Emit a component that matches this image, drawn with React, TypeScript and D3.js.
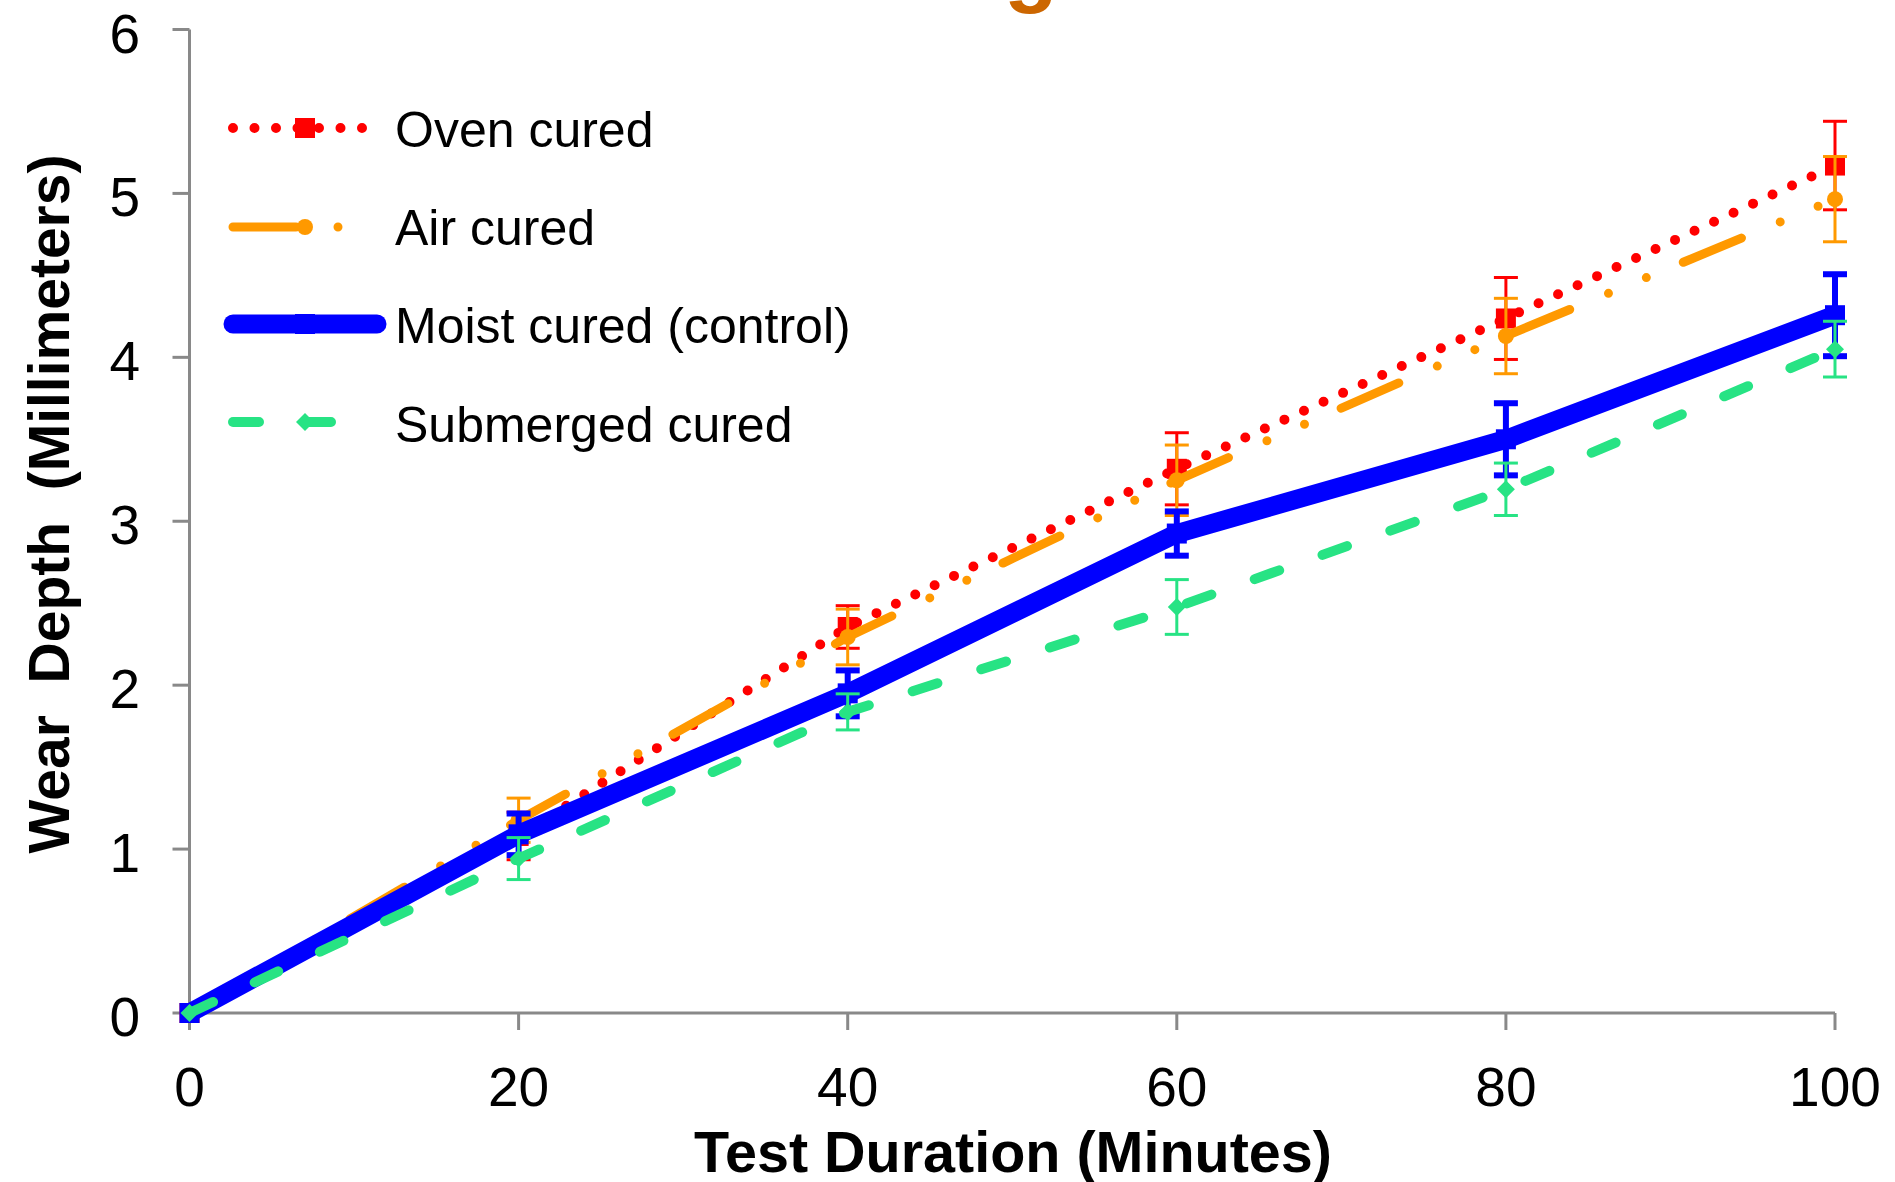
import React from "react";
import * as d3 from "d3";

// Test duration in minutes
const minutes = [0, 20, 40, 60, 80, 100];

// Mean wear depth (mm) and error half-widths per curing method
const ovenCured = [0, 1.08, 2.355, 3.32, 4.237, 5.17];
const ovenErr = [0, 0.145, 0.13, 0.22, 0.25, 0.27];

const airCured = [0, 1.176, 2.294, 3.25, 4.13, 4.965];
const airErr = [0, 0.135, 0.17, 0.215, 0.23, 0.26];

const moistCured = [0, 1.09, 1.95, 2.925, 3.5, 4.257];
const moistErr = [0, 0.127, 0.14, 0.135, 0.22, 0.25];

const submergedCured = [0, 0.942, 1.837, 2.477, 3.195, 4.05];
const submergedErr = [0, 0.128, 0.11, 0.167, 0.16, 0.17];

const xTicks = [0, 20, 40, 60, 80, 100];
const yTicks = [0, 1, 2, 3, 4, 5, 6];

const seriesNames = ["Oven cured", "Air cured", "Moist cured (control)", "Submerged cured"];

const W = 1895;
const H = 1182;
const FONT = "'Liberation Sans', Arial, Helvetica, sans-serif";
const AXIS = "#898989";

type Marker = "square" | "circle" | "diamond";

interface Series {
  name: string;
  values: number[];
  err: number[];
  color: string;
  width: number;
  dash: string;
  marker: Marker;
  markerSize: number;
  errWidth: number;
}

const series: Series[] = [
  { name: seriesNames[0], values: ovenCured, err: ovenErr, color: "#FF0000", width: 10, dash: "0 21.5", marker: "square", markerSize: 20, errWidth: 3 },
  { name: seriesNames[1], values: airCured, err: airErr, color: "#FF9900", width: 9, dash: "63 42 0 41 0 40", marker: "circle", markerSize: 16, errWidth: 3 },
  { name: seriesNames[2], values: moistCured, err: moistErr, color: "#0000FF", width: 19, dash: "none", marker: "square", markerSize: 20, errWidth: 6 },
  { name: seriesNames[3], values: submergedCured, err: submergedErr, color: "#27E384", width: 10, dash: "26 46", marker: "diamond", markerSize: 18, errWidth: 3 },
];

function MarkerShape({ kind, x, y, size, color }: { kind: Marker; x: number; y: number; size: number; color: string }) {
  const h = size / 2;
  if (kind === "square") return <rect x={x - h} y={y - h} width={size} height={size} fill={color} />;
  if (kind === "circle") return <circle cx={x} cy={y} r={h} fill={color} />;
  return <path d={`M${x},${y - h}L${x + h},${y}L${x},${y + h}L${x - h},${y}Z`} fill={color} />;
}

export default function App() {
  const x = d3.scaleLinear().domain([0, 100]).range([189.5, 1835]);
  const y = d3.scaleLinear().domain([0, 6]).range([1013, 29.5]);

  const line = d3
    .line<number>()
    .x((_, i) => x(minutes[i]))
    .y((v) => y(v));

  const legendRows = [128, 227, 324, 422];
  const legendBase = [147, 245, 343, 442];
  const lx1 = 233;
  const lx2 = 377;
  const lxm = (lx1 + lx2) / 2;

  return (
    <div style={{ position: "absolute", left: 0, top: 0 }}>
      <svg width={W} height={H} viewBox={`0 0 ${W} ${H}`} style={{ display: "block", background: "#fff" }}>
        {/* title, mostly above the visible area */}
        <text x={1031} y={-4} fontFamily={FONT} fontWeight="bold" fontSize={88} fill="#CC6600" textAnchor="middle">
          g
        </text>

        {/* axes */}
        <g stroke={AXIS} strokeWidth={3} fill="none">
          <line x1={x(0)} y1={y(6)} x2={x(0)} y2={y(0)} />
          <line x1={x(0)} y1={y(0)} x2={x(100)} y2={y(0)} />
          {yTicks.map((t) => (
            <line key={`yt${t}`} x1={x(0) - 17} x2={x(0)} y1={y(t)} y2={y(t)} />
          ))}
          {xTicks.map((t) => (
            <line key={`xt${t}`} x1={x(t)} x2={x(t)} y1={y(0)} y2={y(0) + 17} />
          ))}
        </g>

        {/* tick labels */}
        <g fontFamily={FONT} fontSize={55} fill="#000">
          {yTicks.map((t) => (
            <text key={`yl${t}`} x={140} y={y(t) + 23} textAnchor="end">
              {t}
            </text>
          ))}
          {xTicks.map((t) => (
            <text key={`xl${t}`} x={x(t)} y={1106} textAnchor="middle">
              {t}
            </text>
          ))}
        </g>

        {/* axis titles */}
        <text
          transform="translate(69,504) rotate(-90)"
          textAnchor="middle"
          fontFamily={FONT}
          fontWeight="bold"
          fontSize={57}
          fill="#000"
          style={{ whiteSpace: "pre" }}
        >
          {"Wear  Depth  (Millimeters)"}
        </text>
        <text x={1013} y={1172} textAnchor="middle" fontFamily={FONT} fontWeight="bold" fontSize={57.5} fill="#000">
          Test Duration (Minutes)
        </text>

        {/* series: error bars and lines */}
        {series.map((s) => (
          <g key={s.name}>
            {s.values.map((v, i) =>
              s.err[i] > 0 ? (
                <g key={i} stroke={s.color} strokeWidth={s.errWidth}>
                  <line x1={x(minutes[i])} x2={x(minutes[i])} y1={y(v - s.err[i])} y2={y(v + s.err[i])} />
                  <line x1={x(minutes[i]) - 12} x2={x(minutes[i]) + 12} y1={y(v + s.err[i])} y2={y(v + s.err[i])} />
                  <line x1={x(minutes[i]) - 12} x2={x(minutes[i]) + 12} y1={y(v - s.err[i])} y2={y(v - s.err[i])} />
                </g>
              ) : null
            )}
            <path
              d={line(s.values) || ""}
              fill="none"
              stroke={s.color}
              strokeWidth={s.width}
              strokeDasharray={s.dash}
              strokeLinecap="round"
              strokeLinejoin="round"
            />
            {s.values.map((v, i) => (
              <MarkerShape key={`m${i}`} kind={s.marker} x={x(minutes[i])} y={y(v)} size={s.markerSize} color={s.color} />
            ))}
          </g>
        ))}

        {/* legend */}
        {series.map((s, k) => (
          <g key={`lg${s.name}`}>
            <line
              x1={lx1}
              x2={lx2}
              y1={legendRows[k]}
              y2={legendRows[k]}
              stroke={s.color}
              strokeWidth={s.width}
              strokeDasharray={s.dash}
              strokeLinecap="round"
            />
            <MarkerShape kind={s.marker} x={lxm} y={legendRows[k]} size={s.markerSize} color={s.color} />
            <text x={395} y={legendBase[k]} fontFamily={FONT} fontSize={50} fill="#000">
              {s.name}
            </text>
          </g>
        ))}
      </svg>
    </div>
  );
}
